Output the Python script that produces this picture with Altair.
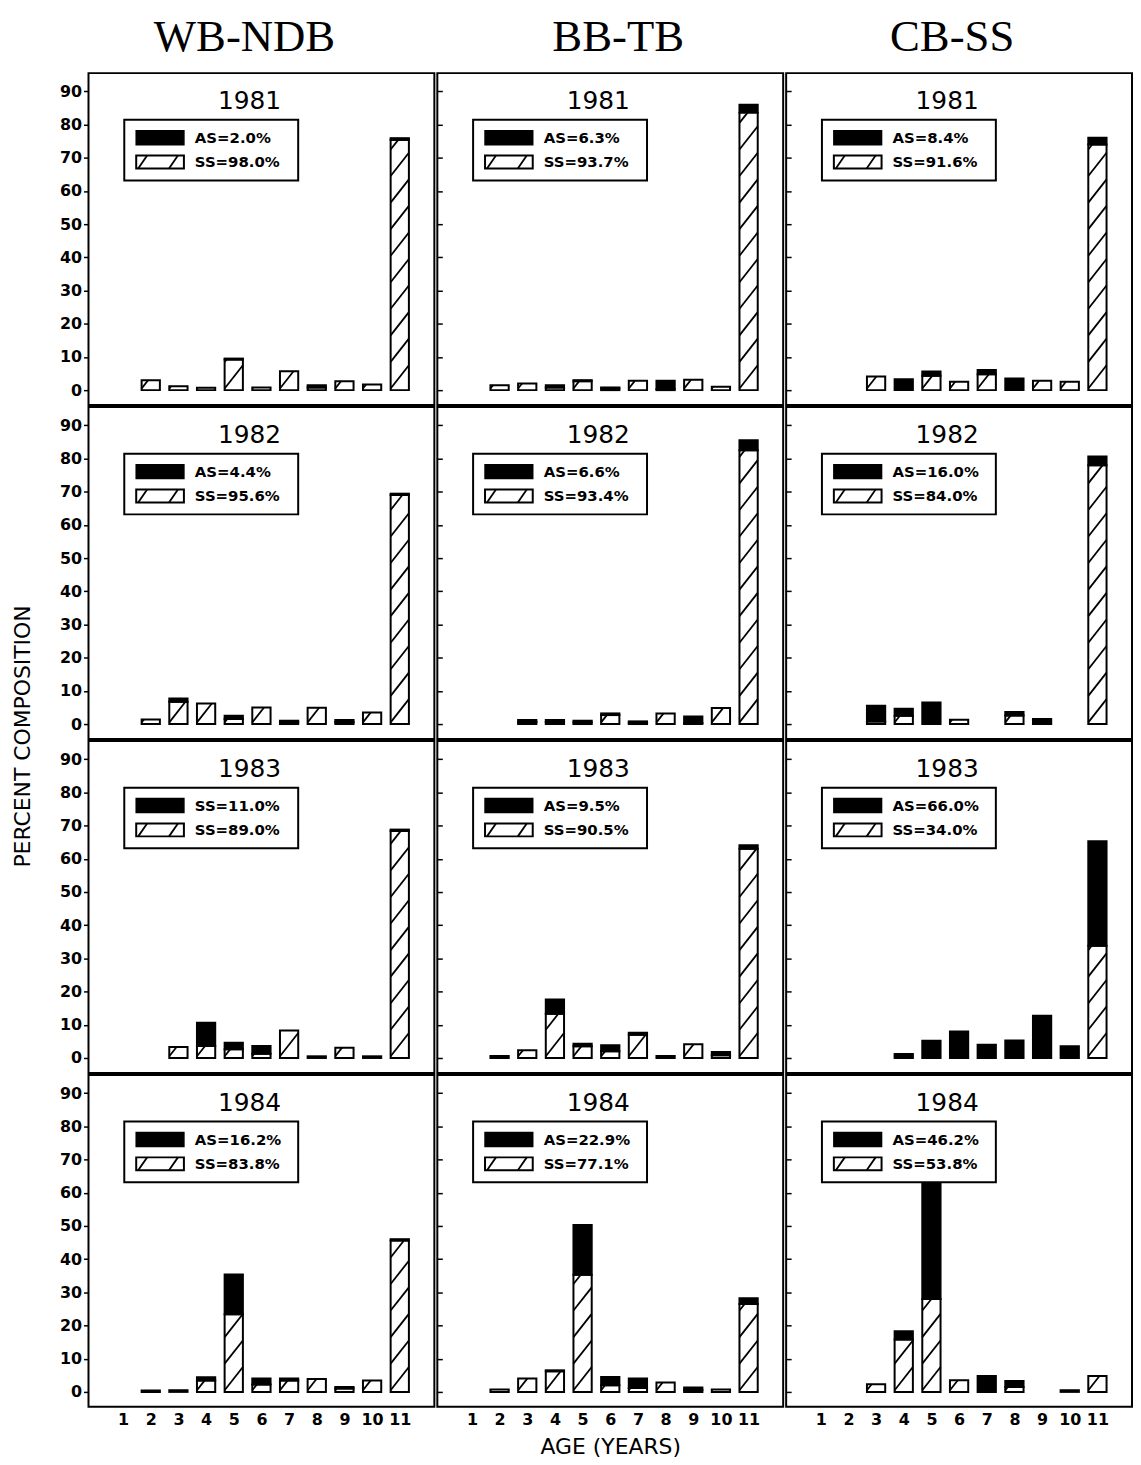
import altair as alt
import pandas as pd

ages = list(range(1, 12))
regions = ["WB-NDB", "BB-TB", "CB-SS"]
years = [1981, 1982, 1983, 1984]
y_ticks = [0, 10, 20, 30, 40, 50, 60, 70, 80, 90]

# SS (hatched) and AS (solid) percentages by age 1..11
wb81_ss = [0, 3.0, 1.2, 0.7, 9.2, 0.8, 5.7, 0.8, 2.7, 1.7, 75.4]
wb81_as = [0, 0, 0, 0, 0.3, 0, 0, 0.7, 0, 0, 0.5]
bb81_ss = [0, 1.5, 2.0, 0.8, 2.7, 0.5, 2.8, 0.3, 3.1, 1.0, 83.6]
bb81_as = [0, 0, 0, 0.7, 0.3, 0.3, 0, 2.5, 0, 0, 2.4]
cb81_ss = [0, 0, 4.1, 0, 4.3, 2.5, 4.8, 0, 2.8, 2.5, 74.0]
cb81_as = [0, 0, 0, 3.3, 1.3, 0, 1.3, 3.5, 0, 0, 2.0]

wb82_ss = [0, 1.4, 6.7, 6.2, 1.5, 5.0, 0.5, 4.9, 0.6, 3.5, 69.0]
wb82_as = [0, 0, 1.0, 0, 1.0, 0, 0.5, 0, 0.6, 0, 0.4]
bb82_ss = [0, 0, 0.6, 0.6, 0.5, 2.7, 0.4, 3.2, 0.3, 4.8, 82.5]
bb82_as = [0, 0, 0.6, 0.6, 0.5, 0.5, 0.4, 0, 2.0, 0, 3.0]
cb82_ss = [0, 0, 0.8, 2.5, 0, 1.3, 0, 2.6, 0, 0, 78.0]
cb82_as = [0, 0, 4.7, 2.1, 6.5, 0, 0, 1.0, 1.5, 0, 2.6]

wb83_ss = [0, 0, 3.3, 3.6, 2.6, 1.3, 8.3, 0.5, 3.1, 0.5, 68.4]
wb83_as = [0, 0, 0, 7.0, 2.0, 2.3, 0, 0, 0, 0, 0.4]
bb83_ss = [0, 0.6, 2.3, 13.3, 3.5, 2.0, 7.0, 0.6, 4.1, 0.8, 63.0]
bb83_as = [0, 0, 0, 4.3, 0.8, 1.8, 0.6, 0, 0, 1.0, 1.1]
cb83_ss = [0, 0, 0, 0, 0, 0, 0, 0, 0, 0, 33.8]
cb83_as = [0, 0, 0, 1.2, 5.2, 8.0, 4.0, 5.3, 12.7, 3.5, 31.5]

wb84_ss = [0, 0.4, 0.5, 3.4, 23.4, 2.2, 3.4, 3.9, 1.0, 3.4, 45.6]
wb84_as = [0, 0, 0, 1.0, 12.0, 1.8, 0.6, 0, 0.5, 0, 0.4]
bb84_ss = [0, 0.7, 4.0, 6.2, 35.3, 2.0, 1.2, 2.8, 0.6, 0.7, 26.5]
bb84_as = [0, 0, 0, 0.3, 15.0, 2.5, 2.8, 0, 0.7, 0, 1.7]
cb84_ss = [0, 0, 2.3, 15.8, 28.0, 3.5, 0, 1.5, 0, 0.5, 4.8]
cb84_as = [0, 0, 0, 2.5, 42.0, 0, 4.8, 1.8, 0, 0, 0]

as_labels = [
    ["AS=2.0%", "AS=6.3%", "AS=8.4%"],
    ["AS=4.4%", "AS=6.6%", "AS=16.0%"],
    ["SS=11.0%", "AS=9.5%", "AS=66.0%"],
    ["AS=16.2%", "AS=22.9%", "AS=46.2%"],
]
ss_labels = [
    ["SS=98.0%", "SS=93.7%", "SS=91.6%"],
    ["SS=95.6%", "SS=93.4%", "SS=84.0%"],
    ["SS=89.0%", "SS=90.5%", "SS=34.0%"],
    ["SS=83.8%", "SS=77.1%", "SS=53.8%"],
]

SS = [[wb81_ss, bb81_ss, cb81_ss], [wb82_ss, bb82_ss, cb82_ss],
      [wb83_ss, bb83_ss, cb83_ss], [wb84_ss, bb84_ss, cb84_ss]]
AS = [[wb81_as, bb81_as, cb81_as], [wb82_as, bb82_as, cb82_as],
      [wb83_as, bb83_as, cb83_as], [wb84_as, bb84_as, cb84_as]]

HW = 0.33      # half bar width in age units
H_STEP = 8.0   # hatch spacing (percent units)
H_RISE = 7.0   # hatch rise across one bar
H_OFF = 0.5

FONT = "DejaVu Sans"
xs = alt.Scale(domain=[-0.25, 12.25], nice=False, zero=False)
ys = alt.Scale(domain=[-4.5, 95.5], nice=False, zero=False)


def hatch_rows(ss):
    rows = []
    for a, t in zip(ages, ss):
        if t <= 0:
            continue
        xl, xr = a - HW, a + HW
        k = -1
        while True:
            y0 = H_OFF + H_STEP * k
            if y0 >= t:
                break
            y1 = y0 + H_RISE
            lo, hi = max(y0, 0.0), min(y1, t)
            if hi - lo > 0.15:
                rows.append({
                    "x0": xl + (lo - y0) / H_RISE * (xr - xl),
                    "x1": xl + (hi - y0) / H_RISE * (xr - xl),
                    "y0": lo, "y1": hi})
            k += 1
    return pd.DataFrame(rows, columns=["x0", "x1", "y0", "y1"])


def panel(ri, ci):
    ss = SS[ri][ci]
    as_ = AS[ri][ci]
    df = pd.DataFrame({"age": ages, "ss": ss, "as": as_})
    df["x0"] = df["age"] - HW
    df["x1"] = df["age"] + HW
    ss_df = df[df["ss"] > 0].assign(y0=0.0, y1=lambda d: d["ss"])
    as_df = df[df["as"] > 0].assign(y0=lambda d: d["ss"], y1=lambda d: d["ss"] + d["as"])
    h_df = hatch_rows(ss)
    lab = pd.DataFrame({"year": [str(years[ri])], "asl": [as_labels[ri][ci]],
                        "ssl": [ss_labels[ri][ci]]})

    if ri == 3:
        xaxis = alt.Axis(values=ages, ticks=False, domain=False, grid=False,
                         labelFont=FONT, labelFontSize=16, labelFontWeight="bold",
                         labelPadding=5, labelFlush=False, labelOverlap=False,
                         labelColor="black",
                         title="AGE (YEARS)" if ci == 1 else None,
                         titleFont=FONT, titleFontSize=22, titleFontWeight="normal",
                         titlePadding=9, titleColor="black")
    else:
        xaxis = None
    if ci == 0:
        yaxis = alt.Axis(values=y_ticks, domain=False, grid=False, tickSize=5,
                         tickWidth=1.5, tickColor="black", labelFont=FONT,
                         labelFontSize=16, labelFontWeight="bold", labelPadding=2,
                         labelOverlap=False, labelFlush=False,
                         labelColor="black", title=None)
    else:
        yaxis = alt.Axis(values=y_ticks, domain=False, grid=False, labels=False,
                         tickSize=5, tickWidth=1.5, tickColor="black", offset=-5,
                         title=None)

    X = alt.X("x0:Q", scale=xs, axis=xaxis)
    Y = alt.Y("y0:Q", scale=ys, axis=yaxis)

    layers = []
    layers.append(alt.Chart(ss_df).mark_rect(fill="white", stroke="black", strokeWidth=2)
                  .encode(x=X, x2="x1:Q", y=Y, y2="y1:Q"))
    if len(h_df):
        layers.append(alt.Chart(h_df).mark_rule(color="black", strokeWidth=1.8)
                      .encode(x=X, x2="x1:Q", y=Y, y2="y1:Q"))
    if len(as_df):
        layers.append(alt.Chart(as_df).mark_rect(fill="black", stroke="black", strokeWidth=2)
                      .encode(x=X, x2="x1:Q", y=Y, y2="y1:Q"))
    base = alt.Chart(lab)
    # legend box
    layers.append(base.mark_rect(fill="white", stroke="black", strokeWidth=2)
                  .encode(x=alt.value(36), x2=alt.value(211), y=alt.value(47), y2=alt.value(108)))
    layers.append(base.mark_rect(fill="black", stroke="black", strokeWidth=1.5)
                  .encode(x=alt.value(48), x2=alt.value(96), y=alt.value(58), y2=alt.value(72)))
    layers.append(base.mark_rect(fill="white", stroke="black", strokeWidth=2)
                  .encode(x=alt.value(48), x2=alt.value(96), y=alt.value(83), y2=alt.value(96)))
    for (a, b) in [(50, 59), (81, 90)]:
        layers.append(base.mark_rule(color="black", strokeWidth=1.8)
                      .encode(x=alt.value(a), x2=alt.value(b), y=alt.value(96), y2=alt.value(83)))
    layers.append(base.mark_text(align="left", baseline="middle", font=FONT, fontSize=15,
                                 fontWeight="bold", color="black")
                  .encode(x=alt.value(107), y=alt.value(65.5), text="asl:N"))
    layers.append(base.mark_text(align="left", baseline="middle", font=FONT, fontSize=15,
                                 fontWeight="bold", color="black")
                  .encode(x=alt.value(107), y=alt.value(89.5), text="ssl:N"))
    layers.append(base.mark_text(align="center", baseline="middle", font=FONT, fontSize=25,
                                 color="black")
                  .encode(x=alt.value(162), y=alt.value(28), text="year:N"))

    props = dict(width=348, height=334)
    if ri == 0:
        props["title"] = alt.TitleParams(regions[ci], font="Liberation Serif", fontSize=45,
                                         fontWeight="normal", color="black", anchor="middle",
                                         offset=13, dx=[-17, 8, -7][ci])
    return alt.layer(*layers).properties(**props)


rows = [alt.hconcat(*[panel(r, c) for c in range(3)], spacing=0) for r in range(4)]
chart = alt.vconcat(*rows, spacing=0).properties(
    title=alt.TitleParams("PERCENT COMPOSITION", orient="left", anchor="middle",
                          font=FONT, fontSize=22, fontWeight="normal", color="black",
                          offset=24),
    padding={"left": 3, "top": 2, "right": 0, "bottom": 0},
    background="white",
).configure_view(stroke="black", strokeWidth=2).configure_axis(labelOverlap=False)

chart.save("out.html", embed_options={"renderer": "svg", "actions": False})
